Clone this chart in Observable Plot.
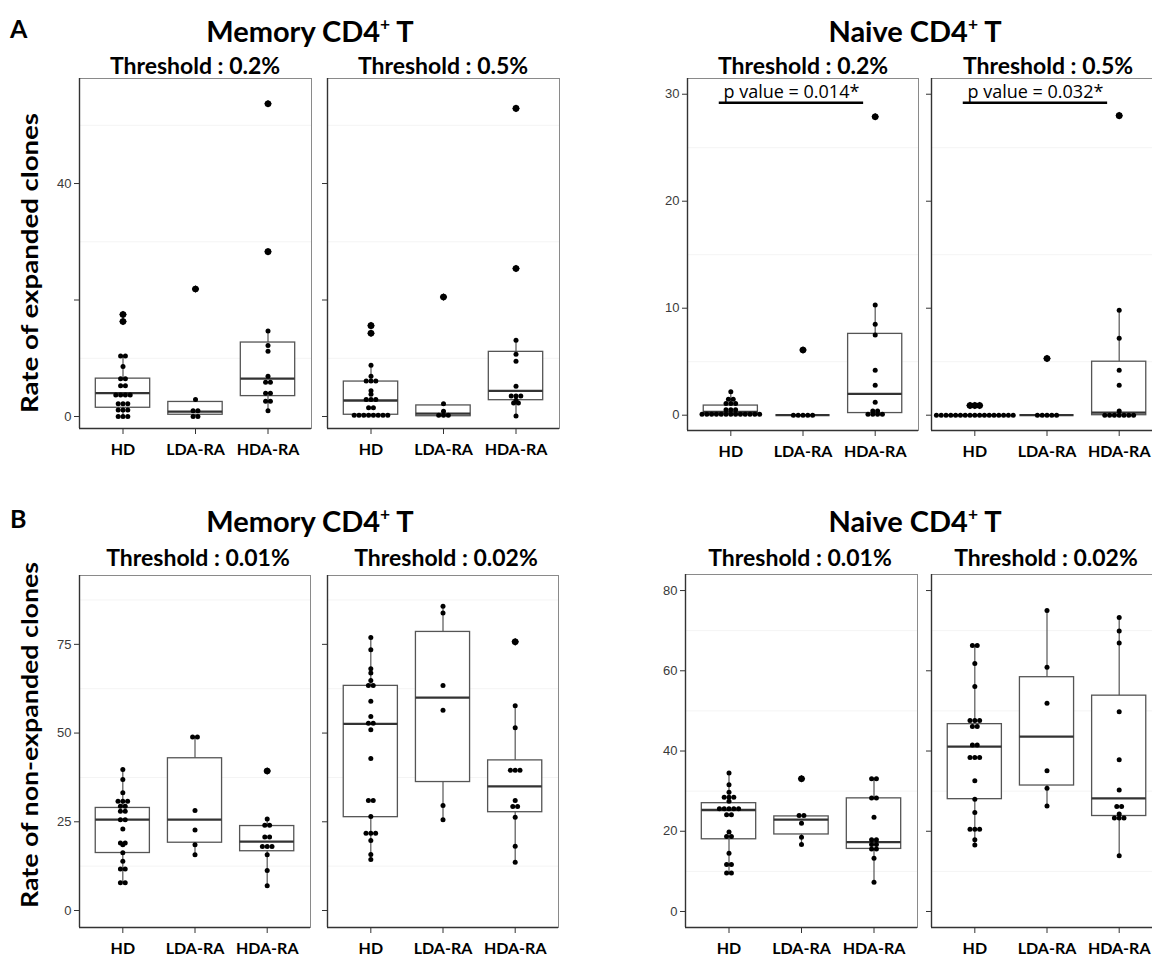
<!DOCTYPE html>
<html><head><meta charset="utf-8">
<script src="https://cdn.jsdelivr.net/npm/d3@7"></script>
<script src="https://cdn.jsdelivr.net/npm/@observablehq/plot@0.6"></script>
<style>
html,body{margin:0;padding:0;background:#fff;overflow:hidden;}
#fig{position:relative;width:1152px;height:958px;overflow:hidden;background:#fff;}
</style></head><body><div id="fig"></div>
<script>
const groups = ["HD", "LDA-RA", "HDA-RA"];

// A: Rate of expanded clones — Memory CD4+ T, threshold 0.2%
const memExp02HD  = [17.5,16.3,10.4,10.4,8.6,6.5,6.5,5.3,5.3,3.7,3.7,3.7,3.7,2.2,2.2,2.2,1.1,1.1,1.1,0,0,0];
const memExp02LDA = [21.9,2.9,1.0,1.0,0,0];
const memExp02HDA = [53.7,28.3,14.7,12.2,11.2,6.9,5.9,5.9,4.0,4.0,2.6,2.6,1.0];
const memExp02Box = [[0,1.5,4.0,6.5,10.4],[0,0.3,0.85,2.5,2.9],[1.0,3.5,6.5,12.7,14.7]]; // [lo,q1,median,q3,hi]
// Memory, threshold 0.5%
const memExp05HD  = [15.6,14.3,8.8,6.9,6.1,6.1,6.1,4.4,3.8,2.9,2.9,2.9,1.5,1.5,0.2,0.2,0.2,0.2,0.2,0.2,0.2,0.2];
const memExp05LDA = [20.5,2.2,0.9,0.2,0.2,0.2];
const memExp05HDA = [52.9,25.4,13.1,10.7,9.5,5.2,3.5,3.5,3.5,2.8,2.3,2.3,0.1];
const memExp05Box = [[0.2,0.3,2.75,6.0,8.8],[0,0.05,0.5,1.9,2.2],[0.1,2.8,4.4,11.1,13.1]];
// Naive, threshold 0.2%
const naiveExp02HD  = [2.2,1.5,1.5,1.1,1.1,1.1,0.5,0.5,0.5,0.1,0.1,0.1,0.1,0.1,0.1,0.1,0.1,0.1,0.1,0.1,0.1,0.1];
const naiveExp02LDA = [6.1,0,0,0,0,0];
const naiveExp02HDA = [27.9,10.3,8.5,7.5,4.2,2.8,1.2,0.4,0.4,0.1,0.1,0.1,0.1];
const naiveExp02Box = [[0.1,0.1,0.3,0.9,2.2],[0,0,0,0,0],[0.1,0.2,2.0,7.6,10.3]];
// Naive, threshold 0.5%
const naiveExp05HD  = [0.9,0.9,0.9,0,0,0,0,0,0,0,0,0,0,0,0,0,0,0,0,0];
const naiveExp05LDA = [5.3,0,0,0,0,0];
const naiveExp05HDA = [28.0,9.8,7.2,4.2,2.8,0.4,0,0,0,0,0,0,0];
const naiveExp05Box = [[0,0,0,0,0],[0,0,0,0,0],[0,0,0.25,5.0,9.8]];
const pValues = ["0.014*", "0.032*"];
const pBracketValue = 29.2;

// B: Rate of non-expanded clones — Memory, threshold 0.01%
const memNon001HD  = [39.7,36.9,33.2,30.8,30.8,30.8,29.4,29.4,28.0,28.0,25.6,25.6,23.0,19.0,19.0,18.5,16.3,13.9,11.7,11.7,7.8,7.8];
const memNon001LDA = [48.9,48.9,28.2,22.7,18.5,15.7];
const memNon001HDA = [39.3,25.8,24.0,24.0,20.7,20.7,18.0,18.0,18.0,15.7,11.3,7.0];
const memNon001Box = [[7.8,16.2,25.6,28.9,39.7],[15.7,19.1,25.6,42.9,48.9],[7.0,16.7,19.4,23.8,25.8]];
// Memory, threshold 0.02%
const memNon002HD  = [76.9,73.5,68.1,66.9,64.8,63.4,63.4,59.0,54.7,52.8,52.8,50.9,42.8,31.0,31.0,26.5,21.8,21.8,21.8,19.7,15.8,14.4];
const memNon002LDA = [85.7,83.8,63.4,56.4,29.6,25.6];
const memNon002HDA = [75.7,57.7,51.5,39.5,39.5,39.5,31.0,29.3,29.3,26.3,18.1,13.6];
const memNon002Box = [[14.4,26.3,52.6,63.3,76.9],[25.6,36.2,60.0,78.5,85.7],[13.6,27.7,35.0,42.3,57.7]];
// Naive, threshold 0.01%
const naiveNon001HD  = [34.5,31.6,29.7,28.5,28.5,28.5,27.5,25.6,25.6,25.6,25.6,25.6,24.1,24.1,19.8,18.7,18.7,14.5,11.7,11.7,9.6,9.6];
const naiveNon001LDA = [33.1,23.9,23.9,22.0,18.5,16.7];
const naiveNon001HDA = [33.1,33.1,28.3,28.3,23.5,17.9,17.9,16.7,16.7,15.6,15.6,13.3,7.3];
const naiveNon001Box = [[9.6,18.0,25.3,27.0,34.5],[16.7,19.2,22.9,23.7,23.9],[7.3,15.6,17.3,28.2,33.1]];
// Naive, threshold 0.02%
const naiveNon002HD  = [66.3,66.3,61.8,56.1,47.6,47.6,47.6,46.1,46.1,41.5,41.5,38.4,38.4,38.4,32.6,28.0,24.7,20.5,20.5,20.5,17.9,16.6];
const naiveNon002LDA = [75.0,60.9,51.9,35.1,30.7,26.3];
const naiveNon002HDA = [73.3,69.9,66.9,49.8,37.8,30.3,26.2,26.2,24.3,23.3,23.3,23.3,13.9];
const naiveNon002Box = [[16.6,28.0,41.1,46.7,66.3],[26.3,31.4,43.6,58.4,75.0],[13.9,23.8,28.2,53.8,73.3]];

const fig = document.getElementById("fig");

function makePanel(cfg) {
  const ml = 38, mr = 4, mt = 4, mb = 44;
  const pxPerUnit = cfg.w / 3.2;
  const step = 4.8 / pxPerUnit;
  const pts = [];
  [cfg.hd, cfg.lda, cfg.hda].forEach((vals, gi) => {
    const counts = d3.rollup(vals, v => v.length, d => d);
    const seen = new Map();
    const [lo, , , , hi] = cfg.box[gi];
    vals.forEach(v => {
      const n = counts.get(v), k = seen.get(v) || 0;
      seen.set(v, k + 1);
      pts.push({x: gi + 1 + (k - (n - 1) / 2) * step, y: v, out: v > hi + 1e-9 || v < lo - 1e-9});
    });
  });
  const boxes = cfg.box.map(([lo, q1, med, q3, hi], i) => ({g: i + 1, lo, q1, med, q3, hi}));
  const hw = 0.375;
  const marks = [
    Plot.ruleY(cfg.grid, {stroke: "#f4f4f4", strokeWidth: 1}),
    Plot.ruleX(boxes, {x: "g", y1: "lo", y2: "hi", stroke: "#555", strokeWidth: 1.2}),
    Plot.rect(boxes, {x1: d => d.g - hw, x2: d => d.g + hw, y1: "q1", y2: "q3", fill: "white", stroke: "#555", strokeWidth: 1.3}),
    Plot.ruleY(boxes, {y: "med", x1: d => d.g - hw, x2: d => d.g + hw, stroke: "#333", strokeWidth: 2.3}),
    Plot.dot(pts.filter(d => !d.out), {x: "x", y: "y", r: 2.5, fill: "black", stroke: null}),
    Plot.dot(pts.filter(d => d.out), {x: "x", y: "y", r: 3.3, fill: "black", stroke: null}),
    Plot.dot(pts.filter(d => d.out), {x: "x", y: "y", r: 3.4, symbol: "diamond2", fill: "black", stroke: null}),
    Plot.frame({stroke: "#8a8a8a", strokeWidth: 1}),
    Plot.ruleX([0.4], {stroke: "#333", strokeWidth: 1.4}),
    Plot.ruleY([cfg.y[0]], {stroke: "#333", strokeWidth: 1.4}),
    Plot.axisY(cfg.ticks, {anchor: "left", tickSize: 5, tickPadding: 3, label: null,
      tickFormat: cfg.labels ? (cfg.fmt || (d => String(d))) : () => "",
      fontSize: 13, fontFamily: "Liberation Sans, Arial, sans-serif", fill: "#3a3a3a", stroke: "#333"}),
    Plot.axisX([1, 2, 3], {anchor: "bottom", tickSize: 6, tickPadding: 9, label: null,
      tickFormat: d => groups[d - 1], fontSize: 16, fontWeight: "bold", fontFamily: "Lato, sans-serif",
      fill: "black", stroke: "#333"})
  ];
  if (cfg.pval) {
    const x1 = 1 - 0.16, x2 = 3 - 0.16;
    marks.push(Plot.ruleY([pBracketValue], {x1: () => x1, x2: () => x2, stroke: "black", strokeWidth: 2.6}));
    marks.push(Plot.text([cfg.pval], {x: () => (x1 + x2) / 2, y: () => pBracketValue + 0.95,
      text: d => "p value = " + d, fontSize: 18, fontFamily: "Open Sans, sans-serif", fill: "black"}));
  }
  const svg = Plot.plot({
    width: cfg.w + ml + mr, height: cfg.h + mt + mb,
    marginLeft: ml, marginRight: mr, marginTop: mt, marginBottom: mb,
    x: {type: "linear", domain: [0.4, 3.6], axis: null},
    y: {type: "linear", domain: cfg.y, axis: null},
    style: {background: "transparent", overflow: "visible", fontFamily: "Liberation Sans, Arial, sans-serif"},
    marks
  });
  svg.style.position = "absolute";
  svg.style.left = (cfg.left - ml) + "px";
  svg.style.top = (cfg.top - mt) + "px";
  svg.style.maxWidth = "none";
  fig.appendChild(svg);
}

const panels = [
  {hd: memExp02HD, lda: memExp02LDA, hda: memExp02HDA, box: memExp02Box, left: 79, top: 78, w: 232, h: 350,
   y: [-2.06, 58.03], ticks: [0, 20, 40], labels: true, fmt: d => (d === 20 ? "" : String(d)), grid: [10, 30, 50]},
  {hd: memExp05HD, lda: memExp05LDA, hda: memExp05HDA, box: memExp05Box, left: 327, top: 78, w: 232, h: 350,
   y: [-2.06, 58.03], ticks: [0, 20, 40], labels: false, grid: [10, 30, 50]},
  {hd: naiveExp02HD, lda: naiveExp02LDA, hda: naiveExp02HDA, box: naiveExp02Box, left: 687, top: 78, w: 231, h: 352,
   y: [-1.43, 31.47], ticks: [0, 10, 20, 30], labels: true, grid: [5, 15, 25], pval: pValues[0]},
  {hd: naiveExp05HD, lda: naiveExp05LDA, hda: naiveExp05HDA, box: naiveExp05Box, left: 931, top: 78, w: 231, h: 352,
   y: [-1.43, 31.47], ticks: [0, 10, 20, 30], labels: false, grid: [5, 15, 25], pval: pValues[1]},
  {hd: memNon001HD, lda: memNon001LDA, hda: memNon001HDA, box: memNon001Box, left: 79, top: 575, w: 231, h: 352,
   y: [-4.79, 94.4], ticks: [0, 25, 50, 75], labels: true, grid: [12.5, 37.5, 62.5, 87.5]},
  {hd: memNon002HD, lda: memNon002LDA, hda: memNon002HDA, box: memNon002Box, left: 327, top: 575, w: 231, h: 352,
   y: [-4.79, 94.4], ticks: [0, 25, 50, 75], labels: false, grid: [12.5, 37.5, 62.5, 87.5]},
  {hd: naiveNon001HD, lda: naiveNon001LDA, hda: naiveNon001HDA, box: naiveNon001Box, left: 685, top: 574, w: 232, h: 353,
   y: [-3.99, 84.0], ticks: [0, 20, 40, 60, 80], labels: true, grid: [10, 30, 50, 70]},
  {hd: naiveNon002HD, lda: naiveNon002LDA, hda: naiveNon002HDA, box: naiveNon002Box, left: 931, top: 574, w: 231, h: 353,
   y: [-3.99, 84.0], ticks: [0, 20, 40, 60, 80], labels: false, grid: [10, 30, 50, 70]}
];
panels.forEach(makePanel);

// Titles overlay
const ov = d3.select(fig).append("svg")
  .attr("width", 1152).attr("height", 958)
  .style("position", "absolute").style("left", "0px").style("top", "0px")
  .style("pointer-events", "none").style("overflow", "visible");

function label(x, y, text, {size, anchor = "middle", weight = "bold", family = "Lato, sans-serif", len = null, rotate = 0, sup = false}) {
  const t = ov.append("text")
    .attr("x", x).attr("y", y)
    .attr("text-anchor", anchor)
    .attr("font-family", family).attr("font-weight", weight).attr("font-size", size)
    .attr("fill", "black");
  if (rotate) t.attr("transform", `rotate(${rotate},${x},${y})`);
  if (len) t.attr("textLength", len).attr("lengthAdjust", "spacingAndGlyphs");
  if (sup) {
    const [a, b] = text.split("+");
    t.append("tspan").text(a + "");
    t.append("tspan").attr("dy", -size * 0.4).attr("font-size", size * 0.6).text("+");
    t.append("tspan").attr("dy", size * 0.4).text(b);
  } else {
    t.text(text);
  }
}

label(10, 38, "A", {size: 25, anchor: "start"});
label(10, 528, "B", {size: 25, anchor: "start"});
label(310, 42, "Memory CD4+ T", {size: 29, sup: true});
label(915, 42, "Naive CD4+ T", {size: 29, sup: true});
label(310, 532, "Memory CD4+ T", {size: 29, sup: true});
label(915, 532, "Naive CD4+ T", {size: 29, sup: true});
label(195, 74, "Threshold : 0.2%", {size: 23});
label(443, 74, "Threshold : 0.5%", {size: 23});
label(803, 74, "Threshold : 0.2%", {size: 23});
label(1048, 74, "Threshold : 0.5%", {size: 23});
label(198, 566, "Threshold : 0.01%", {size: 23});
label(446, 566, "Threshold : 0.02%", {size: 23});
label(800, 566, "Threshold : 0.01%", {size: 23});
label(1046, 566, "Threshold : 0.02%", {size: 23});
label(38, 263, "Rate of expanded clones", {size: 23, rotate: -90, len: 300});
label(38, 735, "Rate of non-expanded clones", {size: 23, rotate: -90, len: 346});
</script>
</body></html>
